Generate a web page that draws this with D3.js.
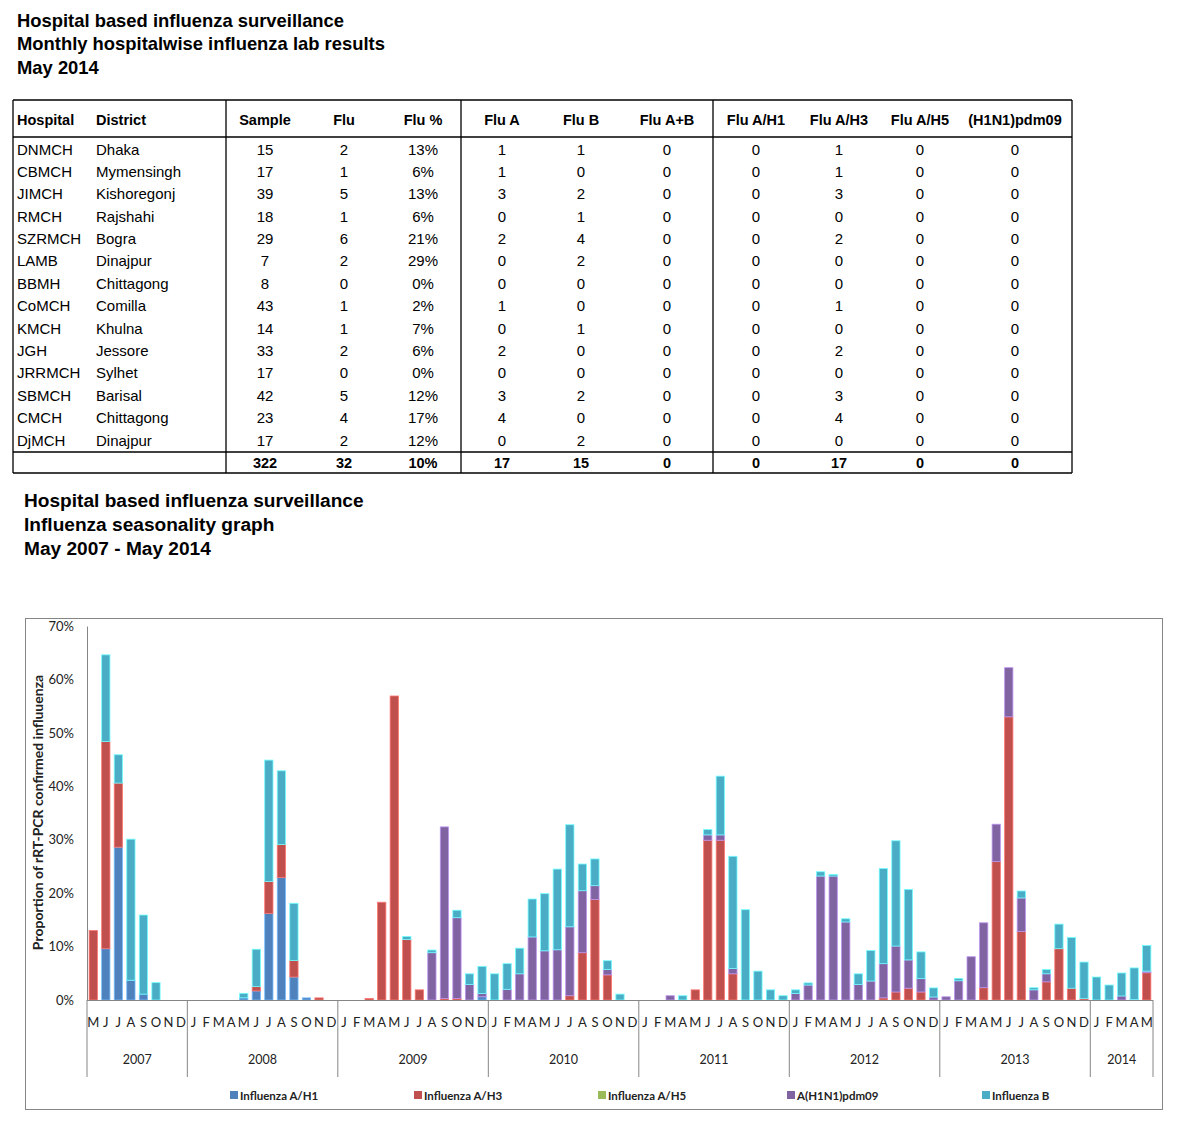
<!DOCTYPE html>
<html>
<head>
<meta charset="utf-8">
<script src="https://cdn.jsdelivr.net/npm/d3@7"></script>
<style>
  body { margin: 0; background: #fff; }
  svg { display: block; }
</style>
</head>
<body>
<svg id="page" width="1179" height="1126"></svg>
<script>
// ---- table data (May 2014) ----
const hospitals = ['DNMCH','CBMCH','JIMCH','RMCH','SZRMCH','LAMB','BBMH','CoMCH','KMCH','JGH','JRRMCH','SBMCH','CMCH','DjMCH']
const districts = ['Dhaka','Mymensingh','Kishoregonj','Rajshahi','Bogra','Dinajpur','Chittagong','Comilla','Khulna','Jessore','Sylhet','Barisal','Chittagong','Dinajpur']
const sample = [15,17,39,18,29,7,8,43,14,33,17,42,23,17]
const flu = [2,1,5,1,6,2,0,1,1,2,0,5,4,2]
const fluPct = ['13%','6%','13%','6%','21%','29%','0%','2%','7%','6%','0%','12%','17%','12%']
const fluA = [1,1,3,0,2,0,0,1,0,2,0,3,4,0]
const fluB = [1,0,2,1,4,2,0,0,1,0,0,2,0,2]
const fluAB = [0,0,0,0,0,0,0,0,0,0,0,0,0,0]
const fluH1 = [0,0,0,0,0,0,0,0,0,0,0,0,0,0]
const fluH3 = [1,1,3,0,2,0,0,1,0,2,0,3,4,0]
const fluH5 = [0,0,0,0,0,0,0,0,0,0,0,0,0,0]
const pdm09 = [0,0,0,0,0,0,0,0,0,0,0,0,0,0]
const totals = ['', '', '322', '32', '10%', '17', '15', '0', '0', '17', '0', '0']
const headers = ['Hospital','District','Sample','Flu','Flu %','Flu A','Flu B','Flu A+B','Flu A/H1','Flu A/H3','Flu A/H5','(H1N1)pdm09']

// ---- seasonality chart data, May 2007 .. May 2014, % of samples ----
const years = ['2007','2008','2009','2010','2011','2012','2013','2014']
const yearStartMonth = [4,0,0,0,0,0,0,0]   // month index each year starts at
const yearMonthCount = [8,12,12,12,12,12,12,5]
const monthLetters = ['J','F','M','A','M','J','J','A','S','O','N','D']
const yTicks = [0,10,20,30,40,50,60,70]

const infH1 = [
  0,9.6,28.6,3.7,1.1,0,0,0,
  0,0,0,0,0.4,1.7,16.2,22.9,4.3,0.4,0,0,
  0,0,0,0,0,0,0,0,0,0,0,0.6,
  0,0,0,0,0,0,0,0,0,0,0,0,
  0,0,0,0,0,0,0,0,0,0,0,0,
  0,0,0,0,0,0,0,0,0,0,0,0,
  0,0,0,0,0,0,0,0,0,0,0,0,
  0,0,0,0,0
]
const infH3 = [
  13,38.8,12.0,0,0,0,0,0,
  0,0,0,0,0,0.8,6.0,6.2,3.1,0,0.4,0,
  0,0,0.3,18.3,56.9,11.3,1.9,0,0.3,0.3,0,0,
  0,0,0,0,0,0,0.8,8.85,18.8,4.7,0,0,
  0,0,0,0,1.9,29.9,29.9,4.9,0,0,0,0,
  0,0,0,0,0,0,0,0.4,1.5,2.2,1.5,0,
  0,0,0,2.3,25.9,53.0,12.8,0,3.4,9.6,2.2,0.25,
  0,0,0,0,5.1
]
const infH5 = [
  0,0,0,0,0,0,0,0,
  0,0,0,0,0,0,0,0,0,0,0,0,
  0,0,0,0,0,0,0,0,0,0,0,0,
  0,0,0,0,0,0,0,0,0,0,0,0,
  0,0,0,0,0,0,0,0,0,0,0,0,
  0,0,0,0,0,0,0,0,0,0,0,0,
  0,0,0,0,0,0,0,0,0,0,0,0,
  0,0,0,0,0
]
const infPdm = [
  0,0,0,0,0,0,0,0,
  0,0,0,0,0,0,0,0,0,0,0,0,
  0,0,0,0,0,0,0,8.85,32.1,15.1,2.9,0.6,
  0,2.0,4.9,11.8,9.2,9.4,12.9,11.6,2.6,1.0,0,0,
  0,0,0.8,0,0,1.0,1.0,1.0,0,0,0,0,
  1.2,2.8,23.2,23.2,14.6,2.9,3.55,6.4,8.6,5.3,2.5,0.56,
  0.6,3.6,8.1,12.15,7.0,9.2,6.3,1.9,1.5,0,0,0,
  0,0,0.75,0.1,0.3
]
const infB = [
  0,16.2,5.3,26.4,14.8,3.25,0,0,
  0,0,0,0,0.85,7.0,22.7,13.8,10.7,0,0,0,
  0,0,0,0,0,0.6,0,0.5,0,1.4,2.0,5.1,
  4.9,4.8,4.8,7.1,10.7,15.1,19.1,5.0,5.0,1.65,1.1,0,
  0,0,0,0.8,0,1.0,11.0,21.0,16.9,5.4,1.9,0.8,
  0.7,0.4,0.8,0.3,0.6,2.0,5.7,17.8,19.7,13.2,5.0,1.7,
  0,0.45,0,0,0,0,1.3,0.4,0.8,4.6,9.5,6.85,
  4.3,2.8,4.3,5.9,4.8
]

const seriesNames = ['Influenza A/H1','Influenza A/H3','Influenza A/H5','A(H1N1)pdm09','Influenza B']
const seriesColors = ['#4f81bd','#c0504d','#9bbb59','#8064a2','#4bacc6']

const svg = d3.select('#page')
svg.append('rect').attr('width', 1179).attr('height', 1126).attr('fill', '#fff')

const arial = 'Liberation Sans, Arial, sans-serif'
const chartFont = 'Lato, Open Sans, sans-serif'

// ---- page titles ----
function titleBlock(lines, x, y0, dy, size) {
  svg.append('g').selectAll('text').data(lines).join('text')
    .attr('x', x).attr('y', (d, i) => y0 + i * dy)
    .attr('dominant-baseline', 'central')
    .attr('font-family', arial).attr('font-weight', 'bold').attr('font-size', size)
    .attr('fill', '#000')
    .text(d => d)
}
titleBlock(['Hospital based influenza surveillance','Monthly hospitalwise influenza lab results','May 2014'], 17, 20, 23.5, 18.4)
titleBlock(['Hospital based influenza surveillance','Influenza seasonality graph','May 2007 - May 2014'], 24, 500, 24, 19.1)

// ---- table ----
const colX = [17, 96, 265, 344, 423, 502, 581, 667, 756, 839, 920, 1015]
const colAnchor = ['start','start','middle','middle','middle','middle','middle','middle','middle','middle','middle','middle']
const tbl = { left: 13, right: 1072, top: 100, headLine: 137, totalLine: 452, bottom: 473 }
const rowY = d3.scaleLinear().domain([0, hospitals.length - 1]).range([149, 440])
const rows = hospitals.map((h, i) => [h, districts[i], sample[i], flu[i], fluPct[i], fluA[i], fluB[i], fluAB[i], fluH1[i], fluH3[i], fluH5[i], pdm09[i]])

const tg = svg.append('g')
tg.selectAll('text.head').data(headers).join('text').attr('class', 'head')
  .attr('x', (d, i) => colX[i]).attr('y', 120)
  .attr('text-anchor', (d, i) => colAnchor[i]).attr('dominant-baseline', 'central')
  .attr('font-family', arial).attr('font-weight', 'bold').attr('font-size', 14.5)
  .text(d => d)

const rowG = tg.selectAll('g.row').data(rows).join('g').attr('class', 'row')
  .attr('transform', (d, i) => `translate(0,${rowY(i)})`)
rowG.selectAll('text').data(d => d).join('text')
  .attr('x', (d, i) => colX[i])
  .attr('text-anchor', (d, i) => colAnchor[i]).attr('dominant-baseline', 'central')
  .attr('font-family', arial).attr('font-size', 15)
  .text(d => d)

tg.selectAll('text.tot').data(totals).join('text').attr('class', 'tot')
  .attr('x', (d, i) => colX[i]).attr('y', 462.5)
  .attr('text-anchor', (d, i) => colAnchor[i]).attr('dominant-baseline', 'central')
  .attr('font-family', arial).attr('font-weight', 'bold').attr('font-size', 14.5)
  .text(d => d)

const hLines = [tbl.top, tbl.headLine, tbl.totalLine, tbl.bottom]
tg.selectAll('line.h').data(hLines).join('line').attr('class', 'h')
  .attr('x1', tbl.left).attr('x2', tbl.right).attr('y1', d => d).attr('y2', d => d)
  .attr('stroke', '#000').attr('stroke-width', 1.3)
tg.selectAll('line.v').data([tbl.left, 226, 461, 713, tbl.right]).join('line').attr('class', 'v')
  .attr('x1', d => d).attr('x2', d => d).attr('y1', tbl.top).attr('y2', tbl.bottom)
  .attr('stroke', '#000').attr('stroke-width', 1.3)

// ---- seasonality chart ----
svg.append('rect').attr('x', 25.5).attr('y', 618.5).attr('width', 1137).attr('height', 491)
  .attr('fill', 'none').attr('stroke', '#868686').attr('stroke-width', 1)

const nMonths = infB.length
const x = d3.scaleBand().domain(d3.range(nMonths)).range([87, 1153]).paddingInner(0.34).paddingOuter(0.17)
const y = d3.scaleLinear().domain([0, 70]).range([1000, 626])

const table = d3.range(nMonths).map(i => ({
  i, h1: infH1[i], h3: infH3[i], h5: infH5[i], pdm: infPdm[i], b: infB[i]
}))
const keys = ['h1','h3','h5','pdm','b']
const stacked = d3.stack().keys(keys)(table)

svg.append('g').selectAll('g').data(stacked).join('g')
  .attr('fill', (d, k) => seriesColors[k])
  .attr('stroke', (d, k) => d3.color(seriesColors[k]).brighter(1.1))
  .attr('stroke-width', 0.8)
  .selectAll('rect').data(d => d.filter(s => s[1] - s[0] > 0)).join('rect')
    .attr('x', d => x(d.data.i)).attr('width', x.bandwidth())
    .attr('y', d => y(d[1])).attr('height', d => y(d[0]) - y(d[1]))

const yAxis = svg.append('g').attr('transform', 'translate(87,0)')
  .call(d3.axisLeft(y).tickValues(yTicks).tickFormat(d => d + '%').tickSize(0).tickPadding(13))
yAxis.select('.domain').attr('stroke', '#868686')
yAxis.selectAll('text').attr('font-family', chartFont).attr('font-size', 13).attr('fill', '#222')

svg.append('text')
  .attr('transform', 'translate(37.5,812.5) rotate(-90)')
  .attr('text-anchor', 'middle').attr('dominant-baseline', 'central')
  .attr('font-family', chartFont).attr('font-weight', 'bold').attr('font-size', 14).attr('fill', '#222')
  .text('Proportion of rRT-PCR confirmed influuenza')

// x axis: months and years
svg.append('line').attr('x1', 87).attr('x2', 1153).attr('y1', 1000.5).attr('y2', 1000.5)
  .attr('stroke', '#868686')

const monthLabels = []
years.forEach((yr, k) => {
  for (let m = 0; m < yearMonthCount[k]; m++) monthLabels.push(monthLetters[yearStartMonth[k] + m])
})
svg.append('g').selectAll('text').data(monthLabels).join('text')
  .attr('x', (d, i) => x(i) + x.bandwidth() / 2).attr('y', 1022)
  .attr('text-anchor', 'middle').attr('dominant-baseline', 'central')
  .attr('font-family', chartFont).attr('font-size', 13).attr('fill', '#222')
  .text(d => d)

const yearStart = d3.cumsum([0, ...yearMonthCount])  // index of first month of each year
const step = x.step()
const edge = i => 87 + i * step
svg.append('g').selectAll('line').data(yearStart).join('line')
  .attr('x1', d => edge(d)).attr('x2', d => edge(d))
  .attr('y1', 1000).attr('y2', 1077)
  .attr('stroke', '#868686')
svg.append('g').selectAll('text').data(years).join('text')
  .attr('x', (d, k) => (edge(yearStart[k]) + edge(yearStart[k + 1])) / 2).attr('y', 1059)
  .attr('text-anchor', 'middle').attr('dominant-baseline', 'central')
  .attr('font-family', chartFont).attr('font-size', 12.5).attr('fill', '#222')
  .text(d => d)

// legend
const legendX = [230, 414, 598, 787, 982]
const lg = svg.append('g').selectAll('g').data(seriesNames).join('g')
  .attr('transform', (d, i) => `translate(${legendX[i]},1095)`)
lg.append('rect').attr('x', 0).attr('y', -4).attr('width', 8).attr('height', 8)
  .attr('fill', (d, i) => seriesColors[i])
lg.append('text').attr('x', 10).attr('y', 0).attr('dominant-baseline', 'central')
  .attr('font-family', chartFont).attr('font-weight', 'bold').attr('font-size', 11.5).attr('fill', '#222')
  .text(d => d)
</script>
</body>
</html>
